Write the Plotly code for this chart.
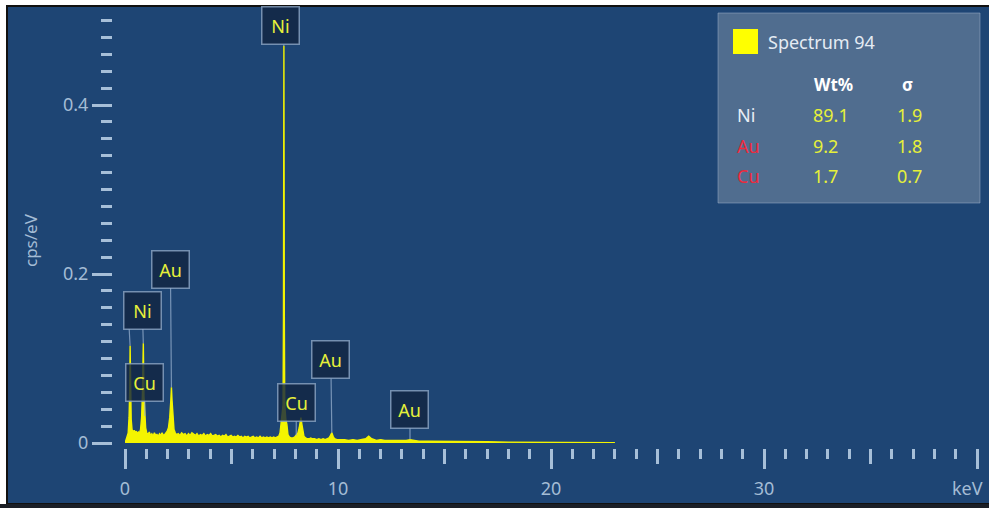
import plotly.graph_objects as go

# ---------------- spectrum data (keV, cps/eV) ----------------
energy_kev = [
    0.00, 0.05, 0.10, 0.15, 0.19, 0.22, 0.24, 0.26, 0.29, 0.33, 0.38, 0.43, 0.48, 0.53,
    0.58, 0.63, 0.68, 0.73, 0.78, 0.82, 0.86, 0.89, 0.93, 0.97, 1.02, 1.08, 1.14, 1.20,
    1.26, 1.32, 1.38, 1.44, 1.50, 1.56, 1.62, 1.68, 1.74, 1.80, 1.86, 1.92, 1.98, 2.04,
    2.10, 2.15, 2.18, 2.21, 2.25, 2.30, 2.36, 2.42, 2.50, 2.58, 2.66, 2.74, 2.82, 2.90,
    2.98, 3.06, 3.14, 3.22, 3.30, 3.38, 3.46, 3.54, 3.62, 3.70, 3.78, 3.86, 3.94, 4.02,
    4.10, 4.18, 4.26, 4.34, 4.42, 4.50, 4.58, 4.66, 4.74, 4.82, 4.90, 4.98, 5.06, 5.14,
    5.22, 5.30, 5.38, 5.46, 5.54, 5.62, 5.70, 5.78, 5.86, 5.94, 6.02, 6.10, 6.18, 6.26,
    6.34, 6.42, 6.50, 6.58, 6.66, 6.74, 6.82, 6.90, 6.98, 7.06, 7.14, 7.22, 7.28, 7.33,
    7.38, 7.42, 7.44, 7.46, 7.48, 7.50, 7.55, 7.60, 7.65, 7.72, 7.80, 7.88, 7.96, 8.04,
    8.12, 8.18, 8.23, 8.26, 8.29, 8.34, 8.40, 8.48, 8.56, 8.64, 8.72, 8.80, 8.90, 9.00,
    9.10, 9.20, 9.30, 9.40, 9.50, 9.58, 9.65, 9.71, 9.77, 9.84, 9.95, 10.1, 10.3, 10.5,
    10.7, 10.9, 11.1, 11.3, 11.44, 11.58, 11.8, 12.0, 12.2, 12.4, 12.6, 12.8, 13.0, 13.2,
    13.38, 13.55, 13.8, 14.2, 14.6, 15.0, 15.5, 16.0, 17.0, 18.0, 19.0, 20.0, 21.0, 22.0,
    23.0,
]
counts_cps = [
    0.000, 0.004, 0.008, 0.012, 0.030, 0.060, 0.115, 0.060, 0.028, 0.016, 0.013, 0.015, 0.012, 0.014,
    0.011, 0.013, 0.012, 0.016, 0.030, 0.060, 0.118, 0.055, 0.032, 0.018, 0.012, 0.010, 0.013, 0.009,
    0.011, 0.008, 0.012, 0.009, 0.010, 0.008, 0.011, 0.009, 0.012, 0.009, 0.010, 0.012, 0.014, 0.018,
    0.030, 0.050, 0.066, 0.050, 0.028, 0.016, 0.012, 0.010, 0.011, 0.009, 0.012, 0.010, 0.011, 0.008,
    0.011, 0.009, 0.012, 0.010, 0.009, 0.011, 0.008, 0.010, 0.009, 0.011, 0.008, 0.010, 0.009, 0.011,
    0.008, 0.009, 0.010, 0.008, 0.009, 0.007, 0.009, 0.008, 0.010, 0.007, 0.008, 0.009, 0.007, 0.008,
    0.007, 0.009, 0.007, 0.008, 0.006, 0.008, 0.007, 0.008, 0.006, 0.007, 0.008, 0.006, 0.007, 0.006,
    0.008, 0.006, 0.007, 0.006, 0.007, 0.006, 0.007, 0.006, 0.007, 0.006, 0.007, 0.008, 0.012, 0.024,
    0.030, 0.045, 0.150, 0.470, 0.150, 0.045, 0.028, 0.022, 0.010, 0.007, 0.006, 0.006, 0.007, 0.009,
    0.012, 0.018, 0.026, 0.030, 0.024, 0.014, 0.008, 0.006, 0.005, 0.005, 0.006, 0.005, 0.005, 0.004,
    0.005, 0.004, 0.005, 0.004, 0.005, 0.006, 0.009, 0.012, 0.008, 0.005, 0.004, 0.004, 0.004, 0.003,
    0.004, 0.003, 0.004, 0.005, 0.008, 0.005, 0.003, 0.004, 0.003, 0.003, 0.003, 0.003, 0.003, 0.003,
    0.004, 0.003, 0.002, 0.002, 0.002, 0.002, 0.002, 0.0015, 0.0015, 0.001, 0.001, 0.001, 0.0008, 0.0005,
    0.0003,
]

# ---------------- peak identification labels ----------------
peak_element = ["Ni", "Au", "Ni", "Cu", "Cu", "Au", "Au"]
peak_energy = [7.46, 2.18, 0.86, 0.93, 8.04, 9.71, 13.38]
peak_cps = [0.470, 0.066, 0.118, 0.032, 0.009, 0.012, 0.004]
# second marker of the low-energy Ni label
extra_energy = 0.24
extra_cps = 0.115

# ---------------- quantification table ----------------
spectrum_name = "Spectrum 94"
quant_element = ["Ni", "Au", "Cu"]
quant_wt = ["89.1", "9.2", "1.7"]
quant_sigma = ["1.9", "1.8", "0.7"]

# ---------------- axis ticks ----------------
x_major = [0, 10, 20, 30, 40]
x_major_text = ["0", "10", "20", "30", ""]
x_mid = [5, 15, 25, 35]
y_major = [0, 0.2, 0.4]
y_major_text = ["0", "0.2", "0.4"]

# ---------------- geometry / styles ----------------
W, H = 989, 508
ML, MR, MT, MB = 112, 12, 7, 60
PW, PH = W - ML - MR, H - MT - MB

BG = "#1e4574"
TICK = "#a7bfd8"
TXT = "#a4bcd5"
YEL = "#f4f400"
LBL_TXT = "#e6f03a"
FONT = "Noto Sans"


def fx(px):
    return (px - ML) / PW


def fy(py):
    return (H - MB - py) / PH


fig = go.Figure()

fig.add_trace(go.Scatter(
    x=energy_kev, y=counts_cps, mode="lines",
    line=dict(color=YEL, width=1.4), fill="tozeroy", fillcolor=YEL,
    hoverinfo="skip", showlegend=False,
))
# carrier trace for the secondary tick axis
fig.add_trace(go.Scatter(x=[None], y=[None], xaxis="x2", yaxis="y",
                         showlegend=False, hoverinfo="skip"))

axis_font = dict(family=FONT, size=18, color=TXT)

fig.update_layout(
    width=W, height=H,
    margin=dict(l=ML, r=MR, t=MT, b=MB, pad=0),
    paper_bgcolor="white",
    plot_bgcolor="rgba(0,0,0,0)",
    showlegend=False,
    xaxis=dict(
        domain=[fx(125), 1], range=[0, 40], anchor="free", position=0,
        showgrid=False, zeroline=False, showline=False,
        tickmode="array", tickvals=x_major, ticktext=x_major_text,
        ticks="outside", ticklen=20, tickwidth=3, tickcolor=TICK,
        ticklabelstandoff=4, tickfont=axis_font,
        minor=dict(tick0=0, dtick=1, ticks="outside", ticklen=10,
                   tickwidth=3, tickcolor=TICK, showgrid=False),
    ),
    xaxis2=dict(
        overlaying="x", matches="x", anchor="free", position=0,
        showgrid=False, zeroline=False, showline=False,
        tickmode="array", tickvals=x_mid, showticklabels=False,
        ticks="outside", ticklen=15, tickwidth=3, tickcolor=TICK,
    ),
    yaxis=dict(
        domain=[5 / PH, 1], range=[0, 0.516], anchor="free", position=0,
        showgrid=False, zeroline=False, showline=False,
        tickmode="array", tickvals=y_major, ticktext=y_major_text,
        ticks="outside", ticklen=20, tickwidth=3, tickcolor=TICK,
        tickfont=axis_font,
        minor=dict(tick0=0, dtick=0.02, ticks="outside", ticklen=11,
                   tickwidth=3, tickcolor=TICK, showgrid=False),
    ),
)

shapes = []
# dark instrument panel with a black frame
shapes.append(dict(type="rect", xref="paper", yref="paper", layer="below",
                   x0=fx(7), x1=fx(995), y0=fy(504), y1=fy(6),
                   fillcolor=BG, line=dict(color="#111111", width=2)))
shapes.append(dict(type="rect", xref="paper", yref="paper", layer="below",
                   x0=fx(-5), x1=fx(995), y0=fy(515), y1=fy(504),
                   fillcolor="#1b1f26", line=dict(width=0)))
# quantification box
shapes.append(dict(type="rect", xref="paper", yref="paper", layer="above",
                   x0=fx(718), x1=fx(980), y0=fy(203), y1=fy(13),
                   fillcolor="rgba(122,142,166,0.55)",
                   line=dict(color="rgba(160,180,205,0.5)", width=1)))
shapes.append(dict(type="rect", xref="paper", yref="paper", layer="above",
                   x0=fx(733), x1=fx(758), y0=fy(54), y1=fy(29),
                   fillcolor="#ffff00", line=dict(width=0)))

annotations = []

# peak labels: callout boxes pointing at the identified lines
label_offsets = [(-3, -20), (-1, -118), (-1, -33), (0, -33), (0, -33), (-1, -73), (0, -30)]
for el, e, c, (ax, ay) in zip(peak_element, peak_energy, peak_cps, label_offsets):
    annotations.append(dict(
        x=e, y=c, xref="x", yref="y", text=el, showarrow=True,
        ax=ax, ay=ay, axref="pixel", ayref="pixel",
        arrowhead=0, arrowwidth=1.2, arrowcolor="rgba(150,175,205,0.75)",
        standoff=0, startstandoff=0,
        font=dict(family=FONT, size=18, color=LBL_TXT),
        bgcolor="rgba(18,38,66,0.82)", bordercolor="rgba(140,165,195,0.8)",
        borderwidth=1.5, borderpad=5, width=26, height=26,
    ))
annotations.append(dict(
    x=extra_energy, y=extra_cps, xref="x", yref="y", text="", showarrow=True,
    ax=-1, ay=-18, axref="pixel", ayref="pixel",
    arrowhead=0, arrowwidth=1.2, arrowcolor="rgba(150,175,205,0.75)",
    standoff=0,
))

# axis captions
annotations.append(dict(x=fx(30), y=fy(240), xref="paper", yref="paper",
                        text="cps/eV", textangle=-90, showarrow=False,
                        font=dict(family=FONT, size=17, color=TXT),
                        xanchor="center", yanchor="middle"))
annotations.append(dict(x=40, y=fy(488), xref="x", yref="paper",
                        text="keV", showarrow=False, xanchor="right", xshift=8,
                        yanchor="middle",
                        font=dict(family=FONT, size=18, color=TXT)))

# quantification table text
annotations.append(dict(x=fx(766), y=fy(42), xref="paper", yref="paper",
                        text=spectrum_name, showarrow=False,
                        xanchor="left", yanchor="middle",
                        font=dict(family=FONT, size=18, color="#e4ebf3")))
annotations.append(dict(x=fx(812), y=fy(84), xref="paper", yref="paper",
                        text="<b>Wt%</b>", showarrow=False,
                        xanchor="left", yanchor="middle",
                        font=dict(family=FONT, size=17, color="#ffffff")))
annotations.append(dict(x=fx(900), y=fy(84), xref="paper", yref="paper",
                        text="<b>σ</b>", showarrow=False,
                        xanchor="left", yanchor="middle",
                        font=dict(family=FONT, size=17, color="#ffffff")))
row_y = [115, 146, 176]
name_colors = ["#e8eef5", "#ee2a3c", "#ee2a3c"]
for el, wt, sg, py, col in zip(quant_element, quant_wt, quant_sigma, row_y, name_colors):
    annotations.append(dict(x=fx(735), y=fy(py), xref="paper", yref="paper",
                            text=el, showarrow=False, xanchor="left", yanchor="middle",
                            font=dict(family=FONT, size=18, color=col)))
    annotations.append(dict(x=fx(811), y=fy(py), xref="paper", yref="paper",
                            text=wt, showarrow=False, xanchor="left", yanchor="middle",
                            font=dict(family=FONT, size=18, color=LBL_TXT)))
    annotations.append(dict(x=fx(895), y=fy(py), xref="paper", yref="paper",
                            text=sg, showarrow=False, xanchor="left", yanchor="middle",
                            font=dict(family=FONT, size=18, color=LBL_TXT)))

fig.update_layout(shapes=shapes, annotations=annotations)

fig.write_html("out.html")
